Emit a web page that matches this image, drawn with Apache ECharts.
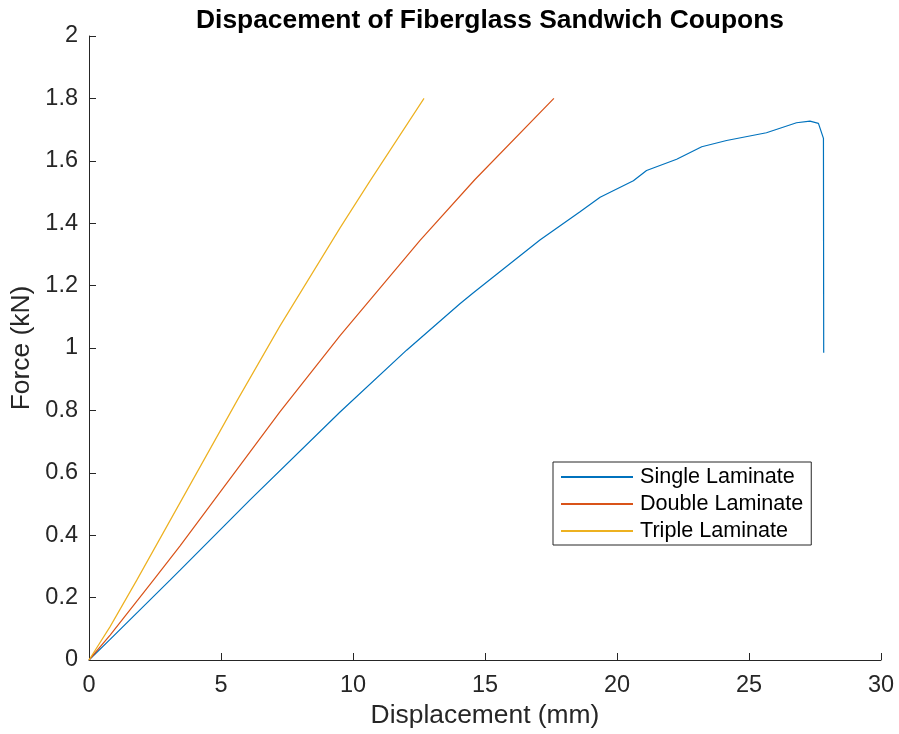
<!DOCTYPE html>
<html>
<head>
<meta charset="utf-8">
<script src="https://cdn.jsdelivr.net/npm/echarts@6/dist/echarts.min.js"></script>
<style>
  html, body { margin: 0; padding: 0; background: #fff; }
  #chart { width: 899px; height: 734px; }
</style>
</head>
<body>
<div id="chart"></div>
<script>
// displacement (mm) / force (kN)
const singleX = [0, 0.8, 3.07, 3.45, 6.1, 9.51, 12.03, 14.05, 14.56, 17.08, 18.6, 19.36, 20.62, 21.12, 22.26, 23.21, 24.15, 25.66, 26.8, 27.31, 27.63, 27.82, 27.83];
const singleY = [0, 0.066, 0.256, 0.288, 0.513, 0.795, 0.993, 1.142, 1.177, 1.346, 1.437, 1.483, 1.536, 1.569, 1.605, 1.645, 1.665, 1.69, 1.722, 1.727, 1.72, 1.672, 0.985];
const doubleX = [0, 0.8, 2.44, 3.45, 7.23, 9.51, 12.54, 14.62, 17.61];
const doubleY = [0, 0.08, 0.256, 0.366, 0.795, 1.04, 1.345, 1.54, 1.8];
const tripleX = [0, 0.8, 1.81, 5.62, 7.23, 9.51, 10.64, 12.69];
const tripleY = [0, 0.107, 0.256, 0.833, 1.07, 1.385, 1.535, 1.8];
const seriesNames = ['Single Laminate', 'Double Laminate', 'Triple Laminate'];
const colors = ['#0072BD', '#D95319', '#EDB120'];

const zip = (xs, ys) => xs.map((x, i) => [x, ys[i]]);
const font = "'Liberation Sans', Arial, Helvetica, sans-serif";
const textColor = '#262626';

const chart = echarts.init(document.getElementById('chart'));

const option = {
  animation: false,
  textStyle: { fontFamily: font },
  title: {
    text: 'Dispacement of Fiberglass Sandwich Coupons',
    left: 485,
    textAlign: 'center',
    top: 3,
    textStyle: { fontFamily: font, fontSize: 26.4, fontWeight: 'bold', color: '#000' }
  },
  grid: { left: 89, right: 18, top: 36, bottom: 74 },
  legend: {
    data: seriesNames,
    orient: 'vertical',
    left: 553,
    top: 462,
    padding: [4, 8, 3, 7],
    itemGap: 5,
    itemWidth: 72,
    itemHeight: 14,
    itemStyle: { opacity: 0 },
    borderColor: textColor,
    borderWidth: 1,
    borderRadius: 0,
    backgroundColor: '#fff',
    textStyle: { fontFamily: font, fontSize: 21.6, color: '#000', padding: [0, 0, 0, 2] }
  },
  xAxis: {
    type: 'value',
    min: 0,
    max: 30,
    interval: 5,
    name: 'Displacement (mm)',
    nameLocation: 'middle',
    nameGap: 42,
    nameTextStyle: { fontFamily: font, fontSize: 26.4, color: textColor },
    axisLine: { lineStyle: { color: textColor, width: 1 } },
    axisTick: { inside: true, length: 7, lineStyle: { color: textColor } },
    axisLabel: { fontFamily: font, fontSize: 23.5, color: textColor, margin: 14 },
    splitLine: { show: false }
  },
  yAxis: {
    type: 'value',
    min: 0,
    max: 2,
    interval: 0.2,
    name: 'Force (kN)',
    nameLocation: 'middle',
    nameGap: 52,
    nameTextStyle: { fontFamily: font, fontSize: 26.4, color: textColor },
    axisLine: { show: true, lineStyle: { color: textColor, width: 1 } },
    axisTick: { show: true, inside: true, length: 7, lineStyle: { color: textColor } },
    axisLabel: { fontFamily: font, fontSize: 23.5, color: textColor, margin: 11 },
    splitLine: { show: false }
  },
  series: [
    { name: seriesNames[0], data: zip(singleX, singleY) },
    { name: seriesNames[1], data: zip(doubleX, doubleY) },
    { name: seriesNames[2], data: zip(tripleX, tripleY) }
  ].map((s, i) => ({
    ...s,
    type: 'line',
    symbol: 'none',
    color: colors[i],
    lineStyle: { width: 1.2, color: colors[i] }
  }))
};

chart.setOption(option);
</script>
</body>
</html>
